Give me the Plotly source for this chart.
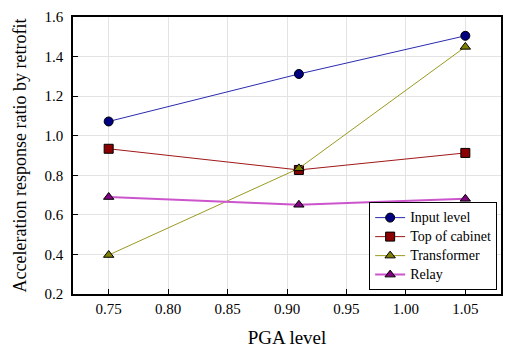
import plotly.graph_objects as go

# PGA levels on the x axis
pga = [0.75, 0.91, 1.05]

# Acceleration response ratios for each measurement point
input_level = [1.072, 1.312, 1.505]
top_of_cabinet = [0.934, 0.827, 0.913]
transformer = [0.397, 0.835, 1.449]
relay = [0.690, 0.651, 0.681]

x_ticks = [0.75, 0.80, 0.85, 0.90, 0.95, 1.00, 1.05]
y_ticks = [0.2, 0.4, 0.6, 0.8, 1.0, 1.2, 1.4, 1.6]

series = [
    ("Input level", input_level, "#2b2bb0", "#000080", "circle", 1),
    ("Top of cabinet", top_of_cabinet, "#a01818", "#8b0000", "square", 1),
    ("Transformer", transformer, "#9a9a20", "#808000", "triangle-up", 1),
    ("Relay", relay, "#cc55cc", "#800080", "triangle-up", 2),
]

font_family = "Liberation Serif"

fig = go.Figure()
for name, vals, line_c, mark_c, sym, lw in series:
    fig.add_trace(go.Scatter(
        x=pga, y=vals, mode="lines+markers",
        # larger text inside a compact legend row
        name=f"<span style='font-size:14px'>{name}</span>",
        line=dict(color=line_c, width=lw),
        marker=dict(symbol=sym, size=9, color=mark_c,
                    line=dict(color="black", width=1)),
    ))

axis_common = dict(
    showline=True, linecolor="black", linewidth=1.5, mirror=True,
    ticks="inside", ticklen=5, tickcolor="black", tickwidth=1,
    showgrid=True, gridcolor="#e3e3e3", gridwidth=1, zeroline=False,
    tickfont=dict(family=font_family, size=15, color="black"),
)

fig.update_layout(
    width=507, height=352,
    margin=dict(l=73, r=4, t=17, b=58),
    paper_bgcolor="white", plot_bgcolor="white",
    font=dict(family=font_family, color="black"),
    xaxis=dict(
        range=[0.72, 1.08], tickvals=x_ticks,
        ticktext=[f"{v:.2f}" for v in x_ticks],
        title=dict(text="PGA level", font=dict(family=font_family, size=19), standoff=15),
        **axis_common,
    ),
    yaxis=dict(
        range=[0.2, 1.6], tickvals=y_ticks,
        ticktext=[f"{v:.1f}" for v in y_ticks],
        ticklabelstandoff=5,
        **axis_common,
    ),
    legend=dict(
        x=0.991, y=0.014, xanchor="right", yanchor="bottom",
        bgcolor="white", bordercolor="black", borderwidth=1,
        font=dict(family=font_family, size=11, color="black"),
        tracegroupgap=0, itemwidth=30,
        entrywidth=95, entrywidthmode="pixels",
    ),
    annotations=[dict(
        text="Acceleration response ratio by retrofit",
        xref="paper", yref="paper", x=0, y=0.5, xshift=-54,
        xanchor="center", yanchor="middle", textangle=-90, showarrow=False,
        font=dict(family=font_family, size=18, color="black"),
    )],
)

fig.write_html("out.html")
